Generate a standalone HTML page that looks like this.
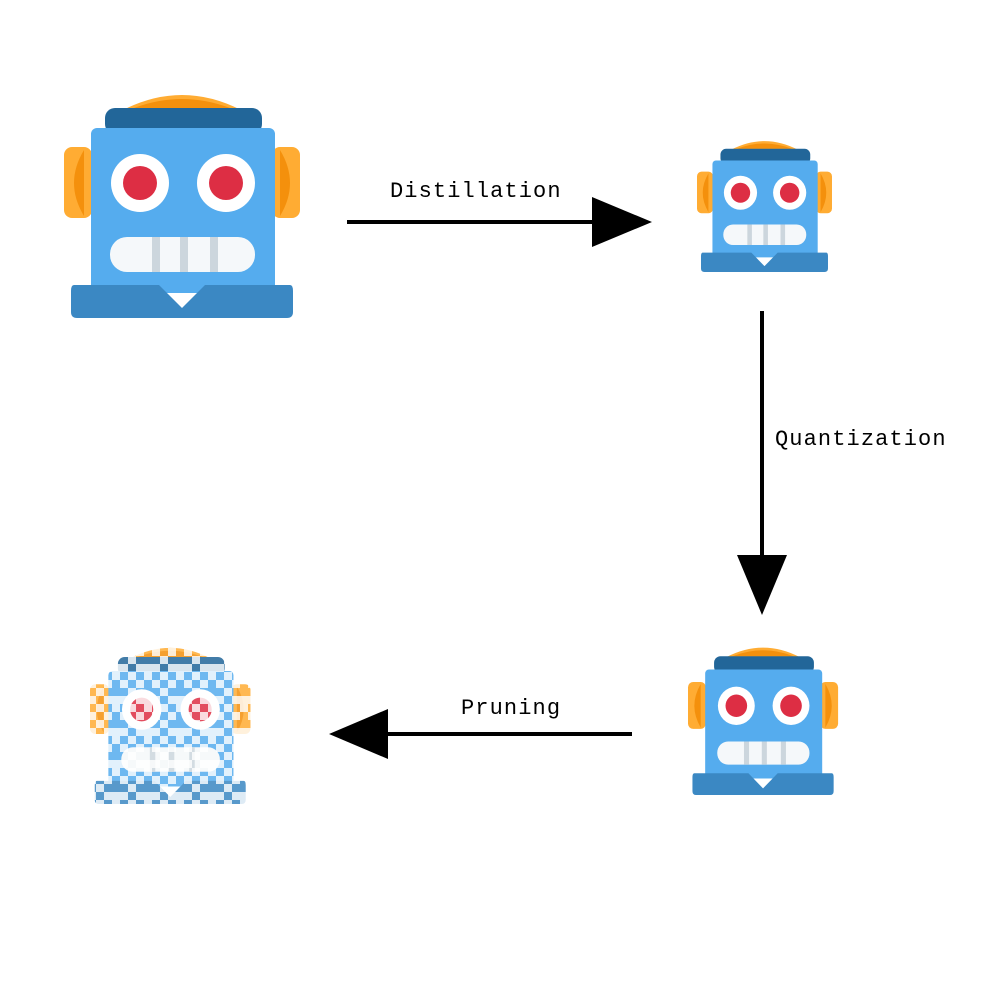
<!DOCTYPE html>
<html><head><style>
html,body{margin:0;padding:0;background:#fff;width:1000px;height:1000px;overflow:hidden}
text{font-family:"Liberation Mono","DejaVu Sans Mono",monospace;font-size:22px;letter-spacing:1.1px;fill:#000}
</style></head><body>
<svg width="1000" height="1000" viewBox="0 0 1000 1000" xmlns="http://www.w3.org/2000/svg">
<defs>
<g id="robot">
  <path d="M59 22 Q118 -8 177 22 Z" fill="#FFAC33"/>
  <path d="M70 20 Q118 2 166 20 Z" fill="#F4900C"/>
  <rect x="0" y="59" width="28" height="71" rx="8" fill="#FFAC33"/>
  <rect x="208" y="59" width="28" height="71" rx="8" fill="#FFAC33"/>
  <path d="M20 62 Q0 95 20 128 Z" fill="#F4900C"/>
  <path d="M216 62 Q236 95 216 128 Z" fill="#F4900C"/>
  <rect x="41" y="20" width="157" height="26" rx="10" fill="#226699"/>
  <rect x="27" y="40" width="184" height="165" rx="6" fill="#55ACEE"/>
  <circle cx="76" cy="95" r="29" fill="#fff"/>
  <circle cx="76" cy="95" r="17" fill="#DD2E44"/>
  <circle cx="162" cy="95" r="29" fill="#fff"/>
  <circle cx="162" cy="95" r="17" fill="#DD2E44"/>
  <rect x="46" y="149" width="145" height="35" rx="17" fill="#F5F8FA"/>
  <rect x="88" y="149" width="8" height="35" fill="#CCD6DD"/>
  <rect x="116" y="149" width="8" height="35" fill="#CCD6DD"/>
  <rect x="146" y="149" width="8" height="35" fill="#CCD6DD"/>
  <path d="M10 197 H95 L118 220 L141 197 H226 Q229 197 229 203 V224 Q229 230 223 230 H13 Q7 230 7 224 V203 Q7 197 10 197 Z" fill="#3B88C3"/>
</g>
<pattern id="noise" width="32" height="32" patternUnits="userSpaceOnUse">
  <rect x="0" y="0" width="8" height="8" fill="#fff"/>
  <rect x="16" y="0" width="8" height="8" fill="#fff"/>
  <rect x="8" y="8" width="8" height="8" fill="#fff"/>
  <rect x="24" y="8" width="8" height="8" fill="#fff"/>
  <rect x="0" y="16" width="8" height="8" fill="#fff"/>
  <rect x="16" y="24" width="16" height="8" fill="#fff"/>
  <rect x="8" y="24" width="8" height="8" fill="#fff"/>
</pattern>
</defs>

<use href="#robot" transform="translate(64,88)"/>
<use href="#robot" transform="translate(697,137) scale(0.572,0.587)"/>
<use href="#robot" transform="translate(688,643) scale(0.636,0.661)"/>
<g opacity="0.85">
<use href="#robot" transform="translate(90,643) scale(0.68,0.7)"/>
</g>
<rect x="88" y="640" width="166" height="168" fill="url(#noise)" opacity="0.8"/>

<line x1="347" y1="222" x2="596" y2="222" stroke="#000" stroke-width="4"/>
<polygon points="592,197 652,222 592,247" fill="#000"/>
<text x="390" y="197">Distillation</text>

<line x1="762" y1="311" x2="762" y2="558" stroke="#000" stroke-width="4"/>
<polygon points="737,555 787,555 762,615" fill="#000"/>
<text x="775" y="445">Quantization</text>

<line x1="632" y1="734" x2="384" y2="734" stroke="#000" stroke-width="4"/>
<polygon points="388,709 388,759 329,734" fill="#000"/>
<text x="461" y="714">Pruning</text>
</svg>
</body></html>
